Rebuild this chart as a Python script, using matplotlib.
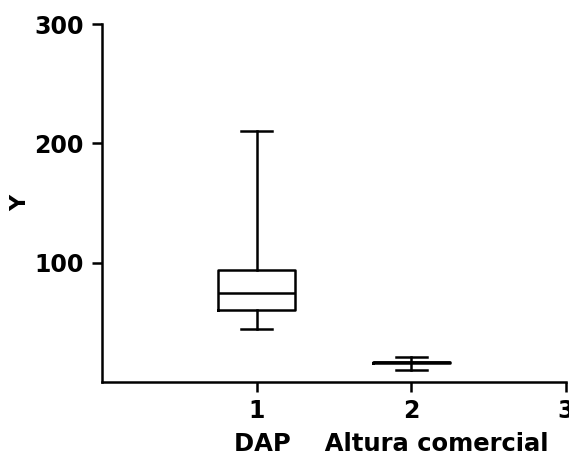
import matplotlib
matplotlib.use('Agg')
import matplotlib.pyplot as plt

# box statistics
positions = [1, 2]
whislo = [44, 10]
q1 = [60, 16]
med = [75, 16.5]
q3 = [94, 17]
whishi = [210, 21]

plt.rcParams['font.family'] = ['DejaVu Sans']
plt.rcParams['font.weight'] = 'bold'

fig = plt.figure(figsize=(5.69, 4.62), dpi=100)
ax = fig.add_axes([102/569, 80/462, 464/569, 358/462])

stats = []
for i in range(len(positions)):
    stats.append({'whislo': whislo[i], 'q1': q1[i], 'med': med[i],
                  'q3': q3[i], 'whishi': whishi[i], 'fliers': []})

lw = 1.8
ax.bxp(stats, positions=positions, widths=0.5, showfliers=False,
       boxprops=dict(color='black', linewidth=lw),
       medianprops=dict(color='black', linewidth=lw),
       whiskerprops=dict(color='black', linewidth=lw),
       capprops=dict(color='black', linewidth=lw),
       capwidths=0.2)

ax.set_xlim(0, 3)
ax.set_ylim(0, 300)
ax.set_yticks([100, 200, 300])
ax.set_xticks([1, 2, 3])
ax.set_xticklabels(['1', '2', '3'])

for s in ['top', 'right']:
    ax.spines[s].set_visible(False)
for s in ['left', 'bottom']:
    ax.spines[s].set_linewidth(1.8)

ax.tick_params(axis='both', length=7, width=1.8, labelsize=17)
ax.tick_params(axis='y', pad=6)
ax.tick_params(axis='x', pad=5)
for lab in ax.get_xticklabels() + ax.get_yticklabels():
    lab.set_fontweight('bold')

ax.set_ylabel('Y', fontsize=16, fontweight='bold')
ax.yaxis.set_label_coords(-0.155, 0.5)
ax.set_xlabel('DAP    Altura comercial', fontsize=17.5, fontweight='bold')
ax.xaxis.set_label_coords((391 - 102) / 464, -0.14)

fig.savefig('out.png', dpi=100)
